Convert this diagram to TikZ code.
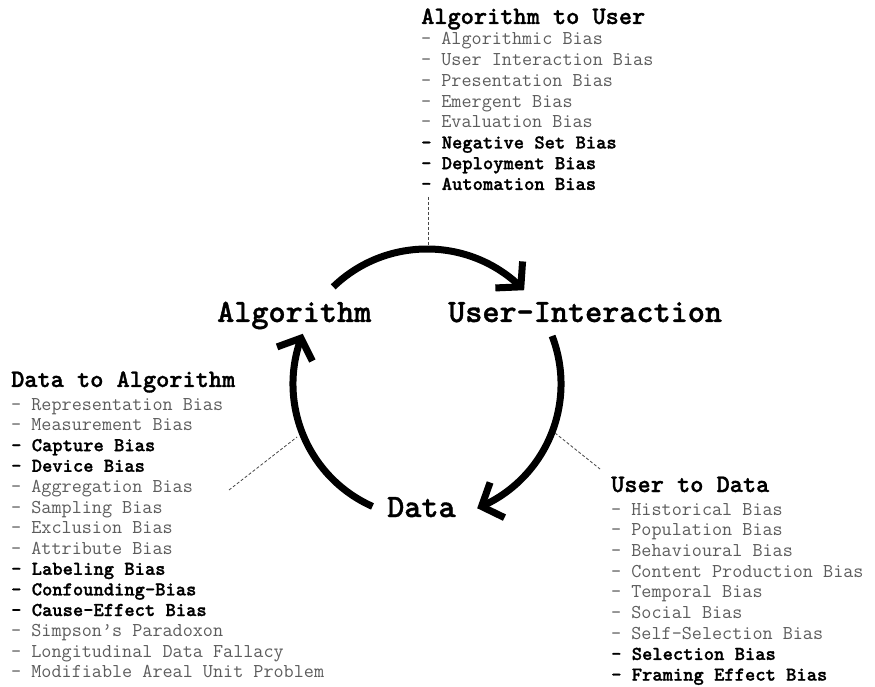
\documentclass[tikz,border=0pt]{standalone}
\usepackage{fontspec}
\usetikzlibrary{arrows.meta,bending}
\newfontfamily\heavymono{lmmonolt10-bold.otf}[FakeBold=1.2]
\definecolor{listgray}{RGB}{92,92,92}
\definecolor{linkgray}{RGB}{70,70,70}
\tikzset{
  item/.style={anchor=base west, inner sep=0pt,
    font=\ttfamily\fontsize{19.6}{20.7}\selectfont, text=listgray},
  head/.style={anchor=base west, inner sep=0pt,
    font=\heavymono\fontsize{25.1}{28}\selectfont},
  stage/.style={anchor=base west, inner sep=0pt,
    font=\heavymono\fontsize{32.6}{36}\selectfont},
  cyclearrow/.style={line width=7pt,
    -{Straight Barb[length=17pt,width=38pt,flex]}},
  link/.style={linkgray, line width=0.8pt, dash pattern=on 3pt off 2pt}
}
\newcommand\boldentry[1]{{\heavymono\color{black}#1}}

\begin{document}
\begin{tikzpicture}[x=1pt,y=1pt]
\useasboundingbox (0,0) rectangle (875,686);

% stages of the feedback loop
\node[stage] (alg) at (217,364) {Algorithm};
\node[stage] (usr) at (448,364) {User-Interaction};
\node[stage] (dat) at (387,169) {Data};

% cycle arcs around a common centre
\coordinate (c) at (427,302);
\draw[cyclearrow] (c) ++(134:135) coordinate (t0)
  arc[start angle=134, end angle=44, radius=135] coordinate (t1);
\draw[cyclearrow] (c) ++(21:134) coordinate (r0)
  arc[start angle=21, end angle=-68, radius=134] coordinate (r1);
\draw[cyclearrow] (c) ++(246:134) coordinate (l0)
  arc[start angle=246, end angle=158, radius=134] coordinate (l1);

% Algorithm to User
\node[head] (h1) at (421,662) {Algorithm to User};
\foreach \t [count=\i from 0] in {
  - Algorithmic Bias,
  - User Interaction Bias,
  - Presentation Bias,
  - Emergent Bias,
  - Evaluation Bias,
  \boldentry{- Negative Set Bias},
  \boldentry{- Deployment Bias},
  \boldentry{- Automation Bias}}
  \node[item] (au\i) at (421,641-20.7*\i) {\t};

% Data to Algorithm
\node[head] (h2) at (11,299) {Data to Algorithm};
\foreach \t [count=\i from 0] in {
  - Representation Bias,
  - Measurement Bias,
  \boldentry{- Capture Bias},
  \boldentry{- Device Bias},
  - Aggregation Bias,
  - Sampling Bias,
  - Exclusion Bias,
  - Attribute Bias,
  \boldentry{- Labeling Bias},
  \boldentry{- Confounding-Bias},
  \boldentry{- Cause-Effect Bias},
  - Simpson’s Paradoxon,
  - Longitudinal Data Fallacy,
  - Modifiable Areal Unit Problem}
  \node[item] (da\i) at (11,276-20.6*\i) {\t};

% User to Data
\node[head] (h3) at (611,194) {User to Data};
\foreach \t [count=\i from 0] in {
  - Historical Bias,
  - Population Bias,
  - Behavioural Bias,
  - Content Production Bias,
  - Temporal Bias,
  - Social Bias,
  - Self-Selection Bias,
  \boldentry{- Selection Bias},
  \boldentry{- Framing Effect Bias}}
  \node[item] (ud\i) at (611,171-20.7*\i) {\t};

% dashed leaders from each list to its arc
\coordinate (k1a) at (428,489);
\coordinate (k1b) at (428,440);
\draw[link] (k1a) -- (k1b);
\coordinate (k2a) at (229,196);
\coordinate (k2b) at (297,249);
\draw[link] (k2a) -- (k2b);
\coordinate (k3a) at (555,253);
\coordinate (k3b) at (600,217);
\draw[link] (k3a) -- (k3b);
\end{tikzpicture}
\end{document}
